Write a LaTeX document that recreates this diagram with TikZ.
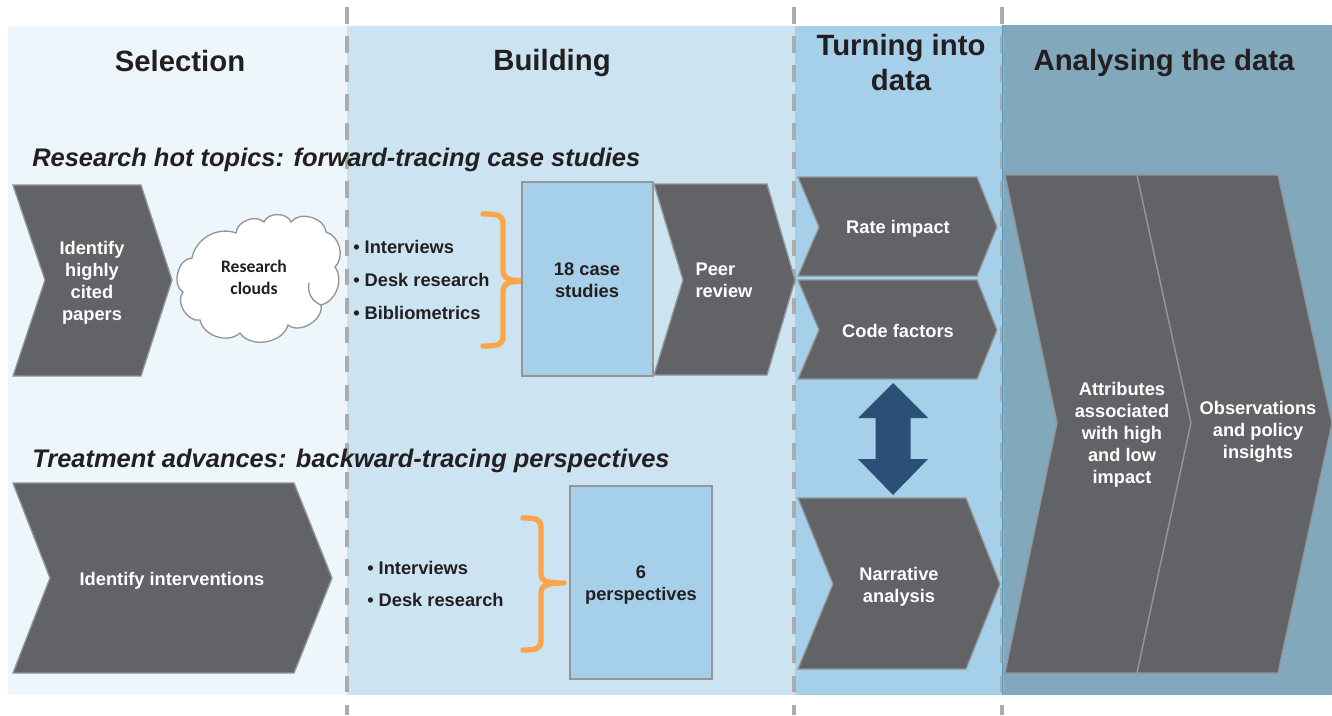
\documentclass[tikz,border=0pt]{standalone}
\usepackage{fontspec}
\setmainfont{Liberation Sans}
\newfontfamily\cloudfont{Carlito}
\usepackage{xcolor}
\definecolor{panelA}{HTML}{EDF6FA}
\definecolor{panelB}{HTML}{CCE3F1}
\definecolor{panelC}{HTML}{A6CFE9}
\definecolor{panelD}{HTML}{82A8BC}
\definecolor{chevfill}{HTML}{626366}
\definecolor{edgegray}{HTML}{939598}
\definecolor{darktext}{HTML}{231F20}
\definecolor{bracecol}{HTML}{FBA54A}
\definecolor{arrowcol}{HTML}{2A5075}
\definecolor{seamcol}{HTML}{5A9BC0}
\tikzset{
    chev/.style={fill=chevfill, draw=edgegray, line width=1pt, line join=miter},
    chevtxt/.style={text=white, font=\bfseries\fontsize{13.7}{16.5}\selectfont, align=center, inner sep=0pt},
    head/.style={text=darktext, font=\bfseries\fontsize{22}{26.25}\selectfont, align=center, inner sep=0pt},
    topic/.style={text=darktext, font=\bfseries\itshape\fontsize{19.1}{23}\selectfont, anchor=west, inner sep=0pt},
    bullets/.style={text=darktext, font=\bfseries\fontsize{13.7}{24.6}\selectfont, align=left, anchor=west, inner sep=0pt},
    casebox/.style={fill=panelC, draw=edgegray, line width=1pt},
    boxtxt/.style={text=darktext, font=\bfseries\fontsize{13.7}{16.5}\selectfont, align=center, inner sep=0pt},
    sep/.style={draw=black!33, line width=2.6pt, dash pattern=on 12.4pt off 9.4pt},
    curly/.style={draw=bracecol, line width=4pt, line cap=round, line join=round},
    cloudline/.style={draw=edgegray, line width=1pt},
}
\begin{document}
\begin{tikzpicture}[x=0.75pt, y=-0.75pt]
    \useasboundingbox (0,0) rectangle (1332,715);

    % Background panels
    \fill[panelA] (8,26) rectangle (347,695);
    \fill[panelB] (347,26) rectangle (795,695);
    \fill[panelC] (795,26) rectangle (1002,695);
    \fill[panelD] (1002,25) rectangle (1332,695);

    % Phase separators
    \draw[sep] (347,7) -- (347,715);
    \draw[sep] (794,7) -- (794,715);
    \draw[sep] (1002,7) -- (1002,715);
    \draw[seamcol, line width=0.7pt] (1002,25) -- (1002,695);

    % Phase headings
    \node[head] (selection) at (180,61) {Selection};
    \node[head] (building) at (552,63) {Building};
    \node[head] (turning) at (901,63) {Turning into\\data};
    \node[head] (analysing) at (1164,63) {Analysing the data};

    % Row titles
    \node[topic] (hot) at (32,160) {Research hot topics: forward-tracing case studies};
    \node[topic] (advances) at (32,461) {Treatment advances: backward-tracing perspectives};

    % Upper row, first chevron
    \draw[chev] (13,185) -- (141,185) -- (172,280) -- (141,376) -- (13,376) -- (45,280) -- cycle;
    \node[chevtxt] (cited) at (92,283) {Identify\\highly\\cited\\papers};

    % Cloud
    \draw[cloudline, fill=white] (192,258) to[bend right=75] (183,292)
        to[bend right=70] (200,320) to[bend right=60] (240,333)
        to[bend right=65] (288,325) to[bend right=70] (321,305)
        to[bend right=55] (335,267) to[bend right=60] (326,232)
        to[bend right=70] (291,222)
        to[bend right=70] (264,222) to[bend right=65] (236,233)
        to[bend right=50] (192,258) -- cycle;
    \draw[cloudline] (321,305) to[bend left=40] (309,283);
    \node[boxtxt, font=\cloudfont\bfseries\fontsize{13.2}{16.5}\selectfont] (clouds) at (254,277) {Research\\clouds};

    % Upper row, sources and brace
    \node[bullets] (srcA) at (353,280) {• Interviews\\• Desk research\\• Bibliometrics};
    \draw[curly] (483,214) .. controls (498,214) and (503,215) .. (503,224) -- (503,270)
        .. controls (503,279) and (510,281) .. (525,281)
        .. controls (510,281) and (503,283) .. (503,292) -- (503,336)
        .. controls (503,345) and (498,346) .. (483,346);

    % Upper row, case studies and review
    \draw[casebox] (522,182) rectangle (653,376);
    \node[boxtxt] (cases) at (587,280) {18 case\\studies};
    \draw[chev] (654,184) -- (767,184) -- (795,280) -- (767,375) -- (654,375) -- (683,280) -- cycle;
    \node[chevtxt, align=left] (peer) at (724,280) {Peer\\review};

    % Lower row
    \draw[chev] (13,483) -- (294,483) -- (332,578) -- (294,673) -- (13,673) -- (50,578) -- cycle;
    \node[chevtxt] (interventions) at (172,581) {Identify interventions};
    \node[bullets] (srcB) at (367,584) {• Interviews\\• Desk research};
    \draw[curly] (523,518) .. controls (536,518) and (541,519) .. (541,528) -- (541,574)
        .. controls (541,582) and (548,583) .. (564,583)
        .. controls (548,583) and (541,585) .. (541,593) -- (541,640)
        .. controls (541,649) and (536,650) .. (523,650);
    \draw[casebox] (570,486) rectangle (712,679);
    \node[boxtxt] (persp) at (641,585) {6\\perspectives};

    % Turning into data
    \draw[chev] (798,177) -- (977,177) -- (997,227) -- (977,276) -- (798,276) -- (819,227) -- cycle;
    \node[chevtxt] (rate) at (898,229) {Rate impact};
    \draw[chev] (798,280) -- (977,280) -- (997,330) -- (977,379) -- (798,379) -- (819,330) -- cycle;
    \node[chevtxt] (code) at (898,331) {Code factors};
    \fill[arrowcol] (893,383) -- (928,418) -- (910.5,418) -- (910.5,459) -- (928,459)
        -- (893,495) -- (858,459) -- (875.5,459) -- (875.5,418) -- (858,418) -- cycle;
    \draw[chev] (798,498) -- (966,498) -- (1000,584) -- (966,669) -- (798,669) -- (833,584) -- cycle;
    \node[chevtxt] (narrative) at (899,587) {Narrative\\analysis};

    % Analysing the data
    \draw[chev] (1005,175) -- (1137,175) -- (1191,423) -- (1137,673) -- (1005,673) -- (1057,423) -- cycle;
    \node[chevtxt] (attributes) at (1122,435) {Attributes\\associated\\with high\\and low\\impact};
    \draw[chev] (1137,175) -- (1278,175) -- (1332,423) -- (1278,673) -- (1137,673) -- (1191,423) -- cycle;
    \node[chevtxt] (insights) at (1258,432) {Observations\\and policy\\insights};
\end{tikzpicture}
\end{document}
